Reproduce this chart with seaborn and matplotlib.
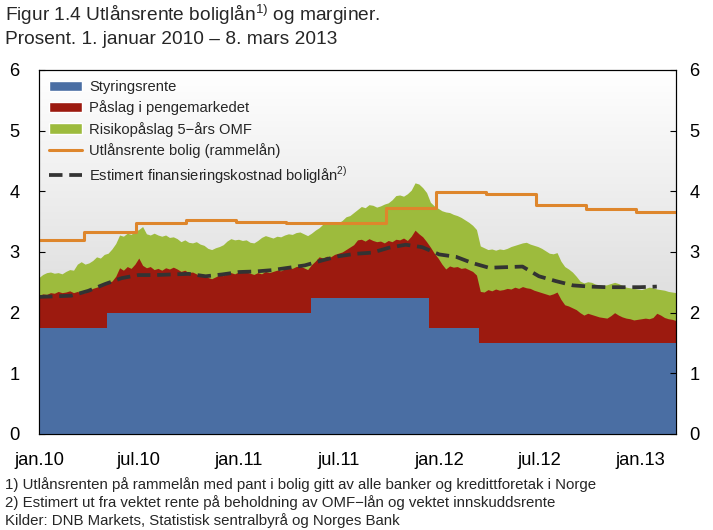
import numpy as np
import pandas as pd
import matplotlib
matplotlib.use('Agg')
import matplotlib.pyplot as plt
from matplotlib.patches import Patch
from matplotlib.lines import Line2D
from matplotlib.colors import LinearSegmentedColormap
import seaborn as sns

sns.set_style("white")
plt.rcParams['font.family'] = ['Liberation Sans', 'DejaVu Sans']
plt.rcParams['mathtext.fontset'] = 'custom'
plt.rcParams['mathtext.rm'] = 'Liberation Sans'

# ukentlige observasjoner, 1. jan 2010 - 8. mars 2013
uker = pd.date_range('2010-01-01', '2013-03-08', freq='7D')

# toppen av rødt felt (styringsrente + påslag i pengemarkedet)
pengemarkedsrente = [
    2.28, 2.31, 2.30, 2.33, 2.32, 2.35, 2.33, 2.34, 2.36, 2.33,
    2.35, 2.32, 2.33, 2.37, 2.40, 2.42, 2.44, 2.46, 2.50, 2.52,
    2.60, 2.74, 2.70, 2.76, 2.73, 2.80, 2.90, 2.78, 2.74, 2.76,
    2.71, 2.73, 2.70, 2.74, 2.72, 2.75, 2.72, 2.68, 2.70, 2.66,
    2.67, 2.64, 2.60, 2.61, 2.58, 2.56, 2.59, 2.62, 2.61, 2.64,
    2.66, 2.64, 2.67, 2.69, 2.67, 2.65, 2.63, 2.66, 2.64, 2.68,
    2.66, 2.68, 2.70, 2.69, 2.72, 2.74, 2.73, 2.76, 2.77, 2.74,
    2.71, 2.79, 2.85, 2.92, 2.90, 2.93, 2.92, 2.96, 2.98, 3.00,
    3.04, 3.08, 3.12, 3.20, 3.21, 3.18, 3.22, 3.19, 3.17, 3.18,
    3.15, 3.19, 3.17, 3.21, 3.20, 3.23, 3.19, 3.26, 3.36, 3.30,
    3.25, 3.17, 3.08, 2.98, 2.90, 2.80, 2.72, 2.77, 2.75, 2.76,
    2.73, 2.74, 2.71, 2.68, 2.62, 2.35, 2.34, 2.38, 2.36, 2.39,
    2.37, 2.38, 2.40, 2.39, 2.42, 2.40, 2.43, 2.41, 2.40, 2.37,
    2.35, 2.33, 2.31, 2.29, 2.31, 2.34, 2.22, 2.13, 2.11, 2.08,
    2.05, 2.00, 1.96, 1.99, 1.97, 1.95, 1.93, 1.92, 1.91, 1.95,
    2.00, 1.96, 1.93, 1.91, 1.90, 1.88, 1.89, 1.90, 1.91, 1.90,
    1.92, 1.99, 1.96, 1.92, 1.90, 1.89, 1.87,
]

# toppen av grønt felt (+ risikopåslag 5-års OMF)
omf_rente = [
    2.58, 2.63, 2.66, 2.67, 2.65, 2.66, 2.64, 2.68, 2.71, 2.70,
    2.80, 2.84, 2.80, 2.82, 2.86, 2.92, 2.90, 2.96, 2.98, 3.05,
    3.14, 3.28, 3.26, 3.31, 3.29, 3.34, 3.37, 3.42, 3.30, 3.28,
    3.31, 3.28, 3.26, 3.28, 3.24, 3.25, 3.22, 3.17, 3.20, 3.16,
    3.15, 3.17, 3.13, 3.11, 3.06, 3.04, 3.07, 3.09, 3.12, 3.18,
    3.22, 3.20, 3.21, 3.19, 3.20, 3.16, 3.15, 3.19, 3.24, 3.27,
    3.25, 3.23, 3.26, 3.25, 3.28, 3.30, 3.29, 3.32, 3.33, 3.30,
    3.27, 3.31, 3.36, 3.40, 3.46, 3.48, 3.47, 3.49, 3.48, 3.52,
    3.58, 3.60, 3.65, 3.70, 3.75, 3.73, 3.78, 3.77, 3.74, 3.76,
    3.79, 3.81, 3.86, 3.93, 3.94, 3.92, 3.96, 4.02, 4.14, 4.12,
    4.06, 3.98, 3.82, 3.76, 3.72, 3.68, 3.66, 3.65, 3.62, 3.60,
    3.57, 3.53, 3.49, 3.44, 3.37, 3.10, 3.07, 3.04, 3.05, 3.03,
    3.05, 3.04, 3.06, 3.09, 3.11, 3.13, 3.15, 3.16, 3.13, 3.11,
    3.09, 3.06, 3.02, 2.98, 2.97, 2.99, 2.85, 2.76, 2.72, 2.67,
    2.60, 2.52, 2.49, 2.51, 2.50, 2.47, 2.46, 2.45, 2.46, 2.48,
    2.50, 2.48, 2.45, 2.42, 2.41, 2.40, 2.39, 2.38, 2.40, 2.42,
    2.41, 2.39, 2.38, 2.37, 2.35, 2.34, 2.33,
]

styring_datoer = pd.to_datetime(['2010-01-01', '2010-05-05', '2011-05-12',
                                 '2011-12-14', '2012-03-14', '2013-03-08'])
styringsrente = [1.75, 2.00, 2.25, 1.75, 1.50, 1.50]

utlan_datoer = pd.to_datetime(['2010-01-01', '2010-03-24', '2010-06-27', '2010-09-26',
                               '2010-12-27', '2011-03-28', '2011-06-27', '2011-09-26',
                               '2011-12-26', '2012-03-26', '2012-06-25', '2012-09-24',
                               '2012-12-25', '2013-03-08'])
utlansrente = [3.20, 3.33, 3.47, 3.52, 3.50, 3.48, 3.47, 3.73,
               3.99, 3.96, 3.78, 3.71, 3.66, 3.66]

maaneder = pd.date_range('2010-01-01', periods=38, freq='MS')
finanskostnad = [
    2.26, 2.27, 2.28, 2.36, 2.47, 2.57, 2.62, 2.62, 2.63, 2.64,
    2.60, 2.63, 2.67, 2.68, 2.70, 2.74, 2.78, 2.86, 2.93, 2.97,
    2.99, 3.07, 3.12, 3.08, 2.96, 2.92, 2.82, 2.74, 2.75, 2.76,
    2.60, 2.52, 2.45, 2.43, 2.42, 2.42, 2.42, 2.43,
]

tick_datoer = pd.to_datetime(['2010-01-01', '2010-07-01', '2011-01-01', '2011-07-01',
                              '2012-01-01', '2012-07-01', '2013-01-01'])
tick_tekster = ['jan.10', 'jul.10', 'jan.11', 'jul.11', 'jan.12', 'jul.12', 'jan.13']

BLA = '#4a6ea3'
ROD = '#9c1a0f'
GRONN = '#9dbb3d'
ORANSJE = '#de862c'
MORK = '#333333'
dash = (0, (3.6, 1.8))

fig = plt.figure(figsize=(7.13, 5.30), dpi=100)
ax = fig.add_axes([39/713, 1 - 434/530, (676 - 39)/713, (434 - 70)/530])

# stablede felt
ax.fill_between(uker, 0, omf_rente, color=GRONN, lw=0, zorder=1)
ax.fill_between(uker, 0, pengemarkedsrente, color=ROD, lw=0, zorder=2)
ax.fill_between(styring_datoer, 0, styringsrente, step='post', color=BLA, lw=0, zorder=3)

sns.lineplot(x=utlan_datoer, y=utlansrente, drawstyle='steps-post', color=ORANSJE,
             lw=2.2, ax=ax, zorder=4)
sns.lineplot(x=maaneder, y=finanskostnad, color=MORK, lw=2.7, linestyle=dash,
             ax=ax, zorder=5)

# grå bakgrunn med gradient
cmap = LinearSegmentedColormap.from_list('bg', ['#d6d6d6', '#ffffff'])
f = np.linspace(0, 1, 300).reshape(-1, 1)
ax.imshow(np.clip((f - 0.2) / 0.8, 0, 1), extent=[0, 1, 0, 1], transform=ax.transAxes,
          aspect='auto', cmap=cmap, origin='lower', zorder=0, vmin=0, vmax=1)

ax.set_xlim(pd.Timestamp('2010-01-01'), pd.Timestamp('2013-03-08'))
ax.set_ylim(0, 6)
ax.set_xticks(tick_datoer)
ax.set_xticklabels(tick_tekster)
ax.set_yticks(range(7))
ax.set_xlabel('')
ax.set_ylabel('')
ax.tick_params(axis='x', direction='in', length=5, width=0.8, pad=13, labelsize=13.2,
               colors='black', top=False)
ax.tick_params(axis='y', direction='in', length=4.5, width=0.8, pad=14, labelsize=13.2,
               colors='black')

ax2 = ax.twinx()
ax2.set_ylim(0, 6)
ax2.set_yticks(range(7))
ax2.tick_params(axis='y', direction='in', length=4.5, width=0.8, pad=9.5, labelsize=13.2,
                colors='black')
for a in (ax, ax2):
    for s in a.spines.values():
        s.set_color('black')
        s.set_linewidth(0.8)

handles = [Patch(facecolor=BLA), Patch(facecolor=ROD), Patch(facecolor=GRONN),
           Line2D([], [], color=ORANSJE, lw=2.2),
           Line2D([], [], color=MORK, lw=2.7, linestyle=dash)]
labels = ['Styringsrente', 'Påslag i pengemarkedet', 'Risikopåslag 5\u2212års OMF',
          'Utlånsrente bolig (rammelån)',
          'Estimert finansieringskostnad boliglån$^{\\mathregular{2)}}$']
ax.legend(handles, labels, loc='upper left', frameon=False, fontsize=10.6,
          handlelength=2.2, handleheight=0.7, handletextpad=0.5, labelspacing=0.42,
          borderpad=0.3, borderaxespad=0.4)

fig.text(5/713, 1 - 21/530, 'Figur 1.4 Utlånsrente boliglån$^{\\mathregular{1)}}$ og marginer.',
         fontsize=13.8, va='baseline', ha='left')
fig.text(5/713, 1 - 43.5/530, 'Prosent. 1. januar 2010 \u2013 8. mars 2013',
         fontsize=13.8, va='baseline', ha='left')

fig.text(5/713, 1 - 489/530,
         '1) Utlånsrenten på rammelån med pant i bolig gitt av alle banker og kredittforetak i Norge',
         fontsize=10.8, va='baseline', ha='left')
fig.text(5/713, 1 - 507/530,
         '2) Estimert ut fra vektet rente på beholdning av OMF\u2212lån og vektet innskuddsrente',
         fontsize=10.8, va='baseline', ha='left')
fig.text(5/713, 1 - 525/530, 'Kilder: DNB Markets, Statistisk sentralbyrå og Norges Bank',
         fontsize=10.8, va='baseline', ha='left')

fig.savefig('out.png', dpi=100)
